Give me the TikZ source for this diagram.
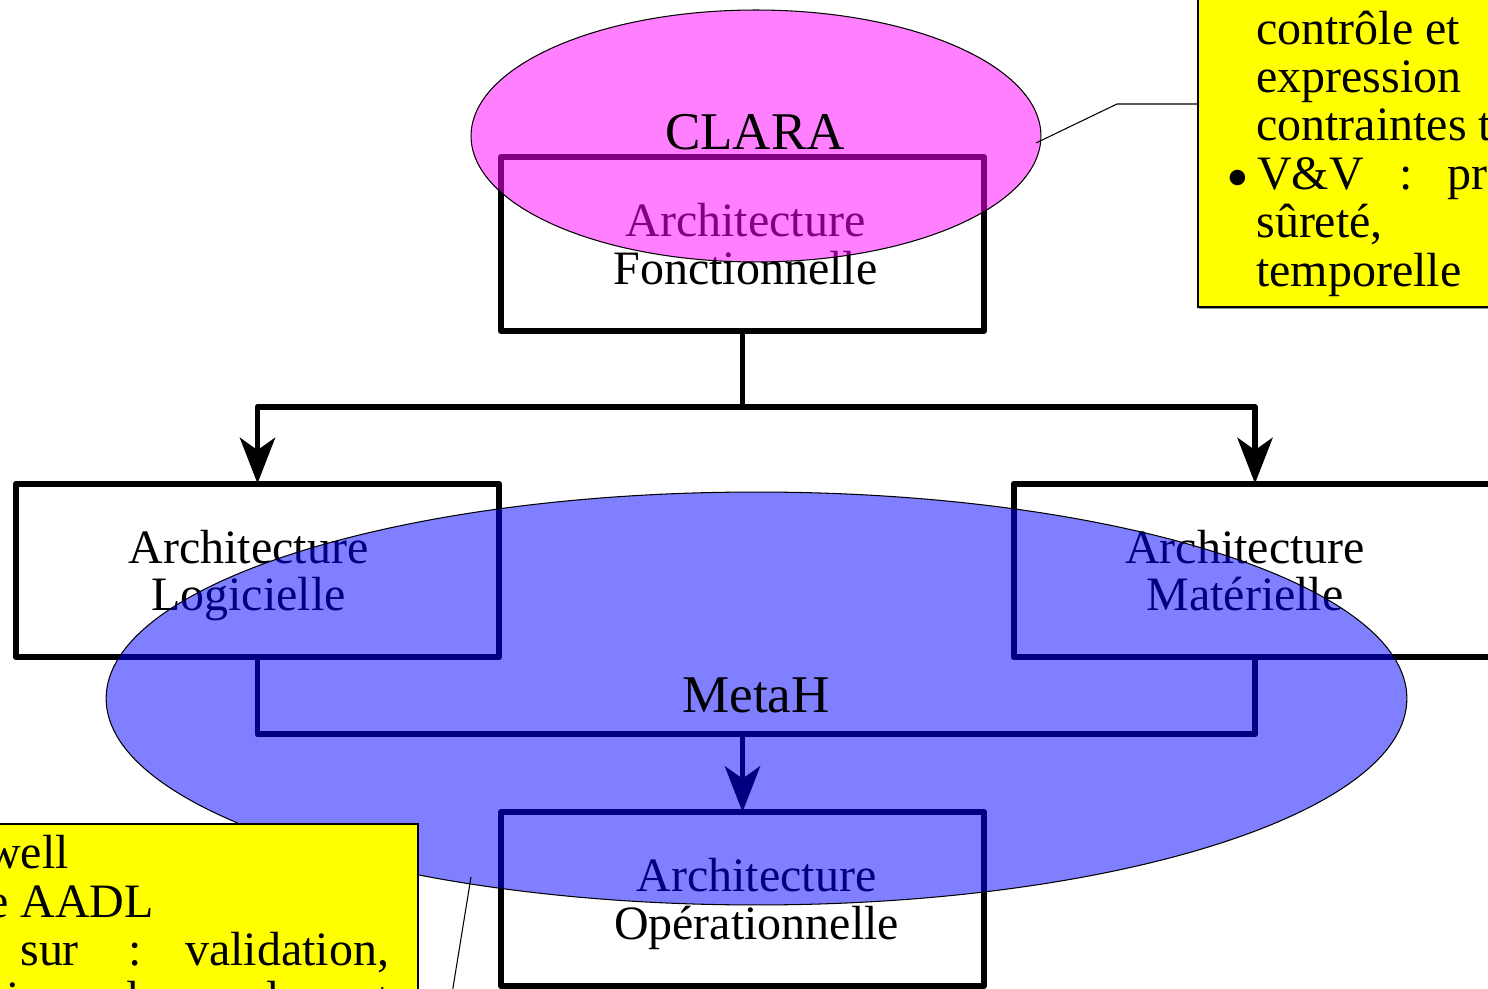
\documentclass[tikz,border=0pt]{standalone}
\usepackage{fontspec}
\setmainfont{Liberation Serif}
\usepackage{tikz}
\usetikzlibrary{arrows.meta, positioning, shapes.geometric, shadows}
\definecolor{NoteYellow}{HTML}{FFFF00}
\definecolor{ShadowGray}{HTML}{8C8C8C}
\definecolor{ClaraPink}{RGB}{255,0,255}
\definecolor{MetaBlue}{RGB}{0,0,255}

\begin{document}
\begin{tikzpicture}[
    x=0.02cm, y=-0.02cm,
    archbox/.style={draw, line width=3.4pt, line join=round, minimum width=9.66cm, minimum height=3.48cm, inner sep=0pt, outer sep=0pt},
    wire/.style={line width=3.4pt, line join=round},
    flow/.style={wire, -{Stealth[length=26pt, width=20pt, inset=7pt]}},
    lbl/.style={font=\fontsize{27.3pt}{27.3pt}\selectfont, inner sep=0pt, anchor=base},
    big/.style={font=\fontsize{30.2pt}{30.2pt}\selectfont, inner sep=0pt, anchor=base},
    langzone/.style={ellipse, draw=black, line width=0.6pt, fill opacity=0.5, inner sep=0pt, outer sep=0pt},
    note/.style={draw=black, line width=0.6pt, fill=NoteYellow, inner sep=0pt, outer sep=0pt,
        drop shadow={shadow xshift=0.8pt, shadow yshift=-1.1pt, fill=ShadowGray, opacity=1}},
    notetxt/.style={lbl, anchor=base west},
    callout/.style={line width=0.6pt}
]
\useasboundingbox (0,0) rectangle (1488,989);
\clip (0,0) rectangle (1488,989);

% Architecture boxes
\node[archbox] (fonc) at (742.5,244) {};
\node[archbox] (logi) at (257.5,570.5) {};
\node[archbox] (mat) at (1255,570.5) {};
\node[archbox] (oper) at (742.5,899) {};

% Links between the boxes
\draw[wire] (fonc.south) -- ++(0,76) coordinate (split);
\draw[flow] (split) -| (logi.north);
\draw[flow] (split) -| (mat.north);
\draw[wire] (logi.south) -- ++(0,77) coordinate (merge) -| (mat.south);
\draw[flow] (merge -| oper.north) -- (oper.north);

% Box labels
\foreach \b/\dx/\kind in {fonc/3/Fonctionnelle, logi/-9/Logicielle, mat/-10/Matérielle, oper/14/Opérationnelle} {
    \node[lbl] (\b-top) at ([xshift=\dx*0.02cm, yshift=0.15cm]\b.center) {Architecture};
    \node[lbl] (\b-bot) at ([yshift=-0.96cm]\b-top.base) {\kind};
}

% Language zones
\node[langzone, fill=ClaraPink, minimum width=11.4cm, minimum height=5.04cm] (clara) at (756,136) {};
\node[langzone, fill=MetaBlue, minimum width=26.02cm, minimum height=8.26cm] (metah) at (756.5,698.5) {};
\node[big] (clara-name) at (755,150) {CLARA};
\node[big] (metah-name) at (756,712) {MetaH};

% Notes
\node[note, minimum width=7.24cm, minimum height=6.54cm, anchor=south west] (ctrlnote) at (1198,307) {};
\node[note, minimum width=9.96cm, minimum height=5.52cm, anchor=north east] (aadlnote) at (418,824) {};

\foreach \x/\y/\t [count=\i] in {1256/45/{contrôle et}, 1256/93/expression, 1256/141/{contraintes t},
    1257/190/V\&V, 1399/190/:, 1447/190/pr, 1256/238/{sûreté,}, 1256/287/temporelle} {
    \node[notetxt] (ctrl-\i) at (\x,\y) {\t};
}
\node[notetxt, font=\fontsize{37pt}{37pt}\selectfont] (ctrl-dot) at (1226,200) {\textbullet};
\foreach \x/\y/\t [count=\i] in {-14/868/well, -13/917/{e AADL}, 20/965/sur, 128/965/:, 185/965/{validation,},
    6/1014/i, 114/1014/de, 254/1014/de, 355/1014/et} {
    \node[notetxt] (aadl-\i) at (\x,\y) {\t};
}

% Callouts
\coordinate (clara-tip) at (1036,143);
\coordinate (clara-bend) at (1117,104);
\draw[callout] (clara-tip) -- (clara-bend) -- (clara-bend -| ctrlnote.west);
\coordinate (metah-tip) at (471,877);
\coordinate (metah-end) at (451,1000);
\draw[callout] (metah-tip) -- (metah-end);
\end{tikzpicture}
\end{document}
